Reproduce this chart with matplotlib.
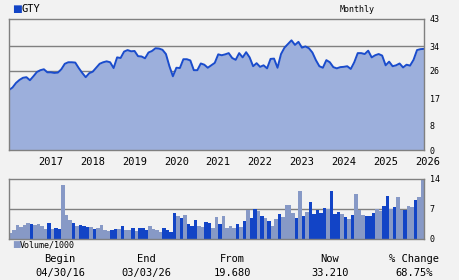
import numpy as np
import matplotlib
matplotlib.use('Agg')
from matplotlib import pyplot as plt
from matplotlib.transforms import blended_transform_factory

# monthly closing prices, 04/2016 .. 03/2026
price = [19.7, 20.5, 22.0, 23.0, 23.7, 23.9, 22.9, 24.2, 25.6, 26.2,
         26.5, 25.5, 25.5, 25.3, 25.4, 26.5, 28.3, 28.8, 28.8, 28.7,
         26.9, 25.3, 23.9, 25.2, 25.7, 27.0, 28.3, 28.8, 29.1, 28.8,
         26.9, 30.4, 30.2, 32.3, 32.8, 32.4, 32.5, 30.8, 30.7, 30.1,
         32.0, 32.5, 33.4, 33.3, 32.9, 31.5, 27.5, 24.2, 27.0, 26.9,
         29.8, 29.8, 29.4, 26.2, 26.2, 28.4, 28.0, 27.0, 27.8, 28.6,
         31.4, 31.1, 31.4, 31.8, 30.2, 29.6, 31.8, 30.4, 32.1, 30.4,
         27.5, 28.5, 27.3, 27.8, 26.8, 29.9, 30.0, 27.0, 31.5, 33.6,
         34.8, 36.0, 34.5, 35.5, 33.6, 34.0, 33.4, 32.0, 29.5, 27.5,
         27.0, 29.5, 28.8, 27.2, 26.8, 27.2, 27.3, 27.5, 26.6, 28.8,
         31.8, 31.8, 31.5, 32.6, 30.4, 31.1, 31.5, 31.0, 27.8, 29.0,
         27.5, 27.8, 28.4, 27.1, 28.0, 27.7, 29.6, 32.8, 33.1, 33.2]

# monthly volume / 1000 and whether the bar is drawn dark (1) or light (0)
volume = [1.5, 2.1, 3.3, 2.9, 3.3, 3.75, 3.5, 3.3, 3.5, 3.0,
          2.3, 3.75, 2.3, 2.6, 2.3, 12.7, 5.6, 4.5, 3.75, 3.0,
          3.3, 3.0, 2.8, 2.8, 2.3, 2.6, 3.3, 2.1, 1.8, 2.0,
          2.3, 2.3, 3.0, 2.1, 2.1, 2.6, 1.9, 2.6, 2.6, 2.1,
          3.0, 2.3, 2.1, 1.7, 2.6, 2.1, 1.7, 6.1, 5.4, 4.9,
          5.6, 3.5, 3.0, 4.5, 3.0, 2.8, 4.0, 3.75, 2.6, 5.2,
          3.5, 5.4, 2.6, 3.1, 2.6, 3.6, 2.9, 4.1, 6.8, 4.8,
          7.0, 6.5, 5.3, 4.8, 4.3, 3.1, 4.6, 5.8, 5.1, 8.0,
          8.0, 6.0, 4.8, 11.3, 5.3, 6.3, 8.7, 5.8, 6.8, 6.0,
          7.2, 7.0, 11.3, 5.8, 6.3, 5.8, 5.1, 4.6, 5.6, 10.4,
          6.8, 5.6, 5.3, 5.3, 6.0, 7.0, 6.5, 7.7, 10.1, 7.0,
          7.5, 9.7, 6.8, 6.8, 7.7, 7.5, 9.2, 9.7, 13.8]
dark = [0, 0, 0, 0, 0, 0, 1, 0, 0, 0,
        0, 1, 0, 1, 1, 0, 0, 0, 1, 0,
        1, 1, 1, 0, 1, 0, 0, 0, 0, 1,
        1, 0, 1, 0, 0, 1, 0, 1, 1, 1,
        0, 0, 0, 0, 1, 1, 1, 1, 0, 1,
        0, 1, 1, 1, 0, 0, 1, 1, 0, 0,
        1, 0, 0, 0, 0, 1, 0, 1, 0, 1,
        1, 0, 1, 0, 1, 0, 0, 1, 0, 0,
        0, 0, 1, 0, 1, 0, 1, 1, 1, 1,
        1, 0, 1, 1, 1, 0, 1, 0, 1, 0,
        0, 0, 1, 1, 1, 0, 0, 1, 1, 0,
        1, 0, 0, 1, 0, 0, 1, 0, 0]

years = ['2017', '2018', '2019', '2020', '2021', '2022', '2023', '2024', '2025', '2026']
price_ticks = [0, 8, 17, 26, 34, 43]
vol_ticks = [0, 7, 14]
summary_heads = ['Begin', 'End', 'From', 'Now', '% Change']
summary_vals = ['04/30/16', '03/03/26', '19.680', '33.210', '68.75%']

bg = '#f2f2f2'
frame = '#808080'
line_c = '#1a4ccc'
fill_c = '#9cafdc'
dark_c = '#1244c6'
light_c = '#8799c6'
mono = 'DejaVu Sans Mono'

fig = plt.figure(figsize=(4.6, 2.8), dpi=100, facecolor=bg)

# price panel
ax = fig.add_axes([9/460, 1-150/280, 415/460, 131/280], facecolor=bg)
x = np.arange(len(price))
ax.fill_between(x, price, 0, color=fill_c, lw=0)
ax.plot(x, price, color=line_c, lw=1.4)
ax.set_xlim(0, len(price) - 1)
ax.set_ylim(0, 43)
for v in [26, 34]:
    ax.axhline(v, color=frame, lw=1, zorder=0)
ax.yaxis.tick_right()
ax.set_yticks(price_ticks)
ax.set_yticklabels([str(t) for t in price_ticks], family=mono, fontsize=6)
ax.tick_params(axis='y', length=0, pad=4)
ax.set_xticks([])
for s in ax.spines.values():
    s.set_color(frame)
    s.set_linewidth(1)
tr = blended_transform_factory(ax.transData, ax.transAxes)
for k, yr in enumerate(years):
    ax.text(12 * (k + 1), -0.09, yr, transform=tr, ha='center', va='center',
            family=mono, fontsize=7.5, clip_on=False)

# volume panel
av = fig.add_axes([9/460, 1-239/280, 415/460, 60/280], facecolor=bg)
xv = np.arange(len(volume))
cols = [dark_c if d else light_c for d in dark]
av.bar(xv, volume, width=1.0, align='edge', color=cols, lw=0)
av.set_xlim(0, len(volume))
av.set_ylim(0, 14)
av.axhline(7, color=frame, lw=1, zorder=0)
av.yaxis.tick_right()
av.set_yticks(vol_ticks)
av.set_yticklabels([str(t) for t in vol_ticks], family=mono, fontsize=6)
av.tick_params(axis='y', length=0, pad=4)
av.set_xticks([])
for s in av.spines.values():
    s.set_color(frame)
    s.set_linewidth(1)

# legend-like labels
fig.text(12/460, 1-9/280, '\u25a0', color=dark_c, fontsize=7.5, va='center', family='DejaVu Sans')
fig.text(22/460, 1-9/280, 'GTY', fontsize=7.5, va='center', family=mono)
fig.text(357/460, 1-9/280, 'Monthly', fontsize=6, va='center', ha='center', family=mono)
fig.text(12/460, 1-245/280, '\u25a0', color=light_c, fontsize=6.5, va='center', family='DejaVu Sans')
fig.text(20/460, 1-245/280, 'Volume/1000', fontsize=6, va='center', family=mono)

# summary rows
centers = [60, 146, 232, 330, 414]
for cx, h, v in zip(centers, summary_heads, summary_vals):
    fig.text(cx/460, 1-259/280, h, ha='center', va='center', family=mono, fontsize=7.5)
    fig.text(cx/460, 1-273/280, v, ha='center', va='center', family=mono, fontsize=7.5)

fig.savefig('out.png', dpi=100, facecolor=bg)
